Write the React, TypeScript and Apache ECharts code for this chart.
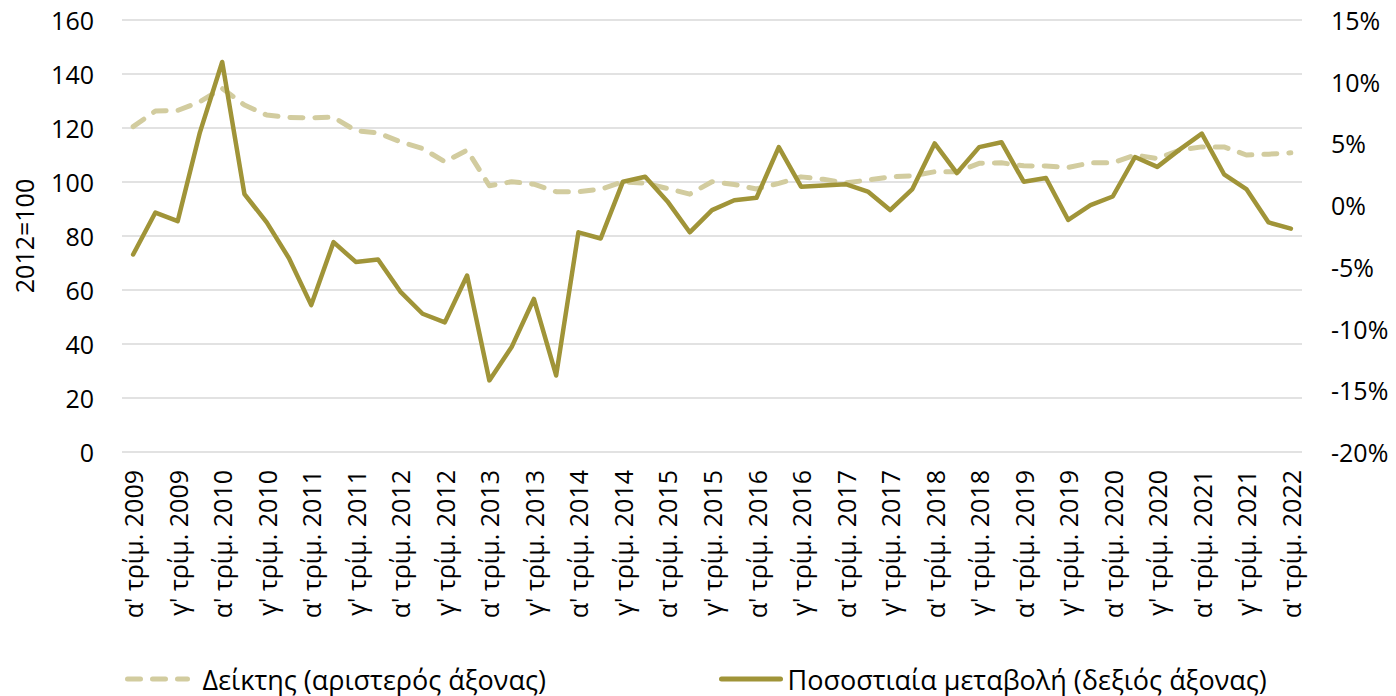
import React, { useEffect, useRef } from "react";
import * as echarts from "echarts";

const QUARTERS = ["α'", "β'", "γ'", "δ'"];
const YEARS = [2009, 2010, 2011, 2012, 2013, 2014, 2015, 2016, 2017, 2018, 2019, 2020, 2021, 2022];

const CATEGORIES: string[] = [];
YEARS.forEach((y) => {
  QUARTERS.forEach((q) => {
    if (CATEGORIES.length < 53) CATEGORIES.push(`${q} τρίμ. ${y}`);
  });
});

const INDEX_NAME = "Δείκτης (αριστερός άξονας)";
const CHANGE_NAME = "Ποσοστιαία μεταβολή (δεξιός άξονας)";

const INDEX_VALUES = [
  120.5, 126.3, 126.5, 129.7, 134.7, 128.5, 124.8, 123.9, 123.8, 124.0,
  119.0, 118.2, 114.9, 112.4, 107.5, 111.8, 98.6, 100.1, 99.2, 96.4,
  96.4, 97.3, 100.1, 99.5, 97.6, 95.5, 100.1, 99.1, 97.4, 99.5,
  101.9, 101.0, 99.7, 100.7, 101.9, 102.3, 103.8, 103.8, 106.9, 107.1,
  106.0, 105.9, 105.4, 107.1, 107.1, 110.0, 108.7, 111.8, 113.0, 113.0,
  110.0, 110.3, 110.8,
];

const CHANGE_VALUES = [
  -4.0, -0.6, -1.3, 5.9, 11.6, 0.9, -1.4, -4.3, -8.1, -3.0,
  -4.6, -4.4, -7.0, -8.8, -9.5, -5.7, -14.2, -11.5, -7.6, -13.8,
  -2.2, -2.7, 1.9, 2.3, 0.3, -2.2, -0.4, 0.4, 0.6, 4.7,
  1.5, 1.6, 1.7, 1.1, -0.4, 1.3, 5.0, 2.6, 4.7, 5.1,
  1.9, 2.2, -1.2, 0.0, 0.7, 3.9, 3.1, 4.5, 5.8, 2.5,
  1.3, -1.4, -1.9,
];

const FONT = "'Open Sans', 'Noto Sans', sans-serif";
const SOLID = "#A09438";
const DASHED = "#D2CC9F";
const GRID = "#D9D9D9";
const TEXT = "#000000";

export default function App() {
  const ref = useRef<HTMLDivElement>(null);

  useEffect(() => {
    if (!ref.current) return;
    const chart = echarts.init(ref.current, undefined, { renderer: "svg" });
    const legendText = { fontFamily: FONT, fontSize: 27, color: TEXT, lineHeight: 30 };
    chart.setOption({
      animation: false,
      backgroundColor: "#ffffff",
      textStyle: { fontFamily: FONT },
      grid: { left: 122, right: 94, top: 20, height: 432 },
      legend: [
        {
          data: [INDEX_NAME],
          left: 125,
          top: 664,
          padding: 0,
          itemWidth: 60,
          itemHeight: 14,
          itemStyle: { opacity: 0 },
          lineStyle: { width: 5, cap: "round" },
          textStyle: { ...legendText, padding: [0, 0, 0, 10] },
        },
        {
          data: [CHANGE_NAME],
          left: 719,
          top: 664,
          padding: 0,
          itemWidth: 59,
          itemHeight: 14,
          itemStyle: { opacity: 0 },
          lineStyle: { width: 5, cap: "round" },
          textStyle: { ...legendText, padding: [0, 0, 0, 2] },
        },
      ],
      xAxis: {
        type: "category",
        data: CATEGORIES,
        boundaryGap: true,
        axisLine: { show: false },
        axisTick: { show: false },
        axisLabel: {
          interval: 1,
          rotate: 90,
          margin: 18,
          fontSize: 25,
          color: TEXT,
          fontFamily: FONT,
        },
      },
      yAxis: [
        {
          type: "value",
          min: 0,
          max: 160,
          interval: 20,
          name: "2012=100",
          nameLocation: "middle",
          nameRotate: 90,
          nameGap: 86,
          nameTextStyle: { fontSize: 25, color: TEXT, fontFamily: FONT },
          axisLine: { show: false },
          axisTick: { show: false },
          axisLabel: { fontSize: 25, color: TEXT, margin: 28, fontFamily: FONT },
          splitLine: { show: true, lineStyle: { color: GRID, width: 1.5 } },
        },
        {
          type: "value",
          min: -20,
          max: 15,
          interval: 5,
          position: "right",
          axisLine: { show: false },
          axisTick: { show: false },
          axisLabel: { fontSize: 25, color: TEXT, margin: 29, fontFamily: FONT, formatter: "{value}%" },
          splitLine: { show: false },
        },
      ],
      series: [
        {
          name: INDEX_NAME,
          type: "line",
          yAxisIndex: 0,
          data: INDEX_VALUES,
          symbol: "none",
          color: DASHED,
          lineStyle: { color: DASHED, width: 5, type: [13, 12], cap: "round", join: "round" },
          z: 2,
        },
        {
          name: CHANGE_NAME,
          type: "line",
          yAxisIndex: 1,
          data: CHANGE_VALUES,
          symbol: "none",
          color: SOLID,
          lineStyle: { color: SOLID, width: 4.5, cap: "round", join: "round" },
          z: 3,
        },
      ],
    });
    return () => chart.dispose();
  }, []);

  return (
    <div
      ref={ref}
      style={{ position: "fixed", left: 0, top: 0, width: 1396, height: 696, background: "#fff" }}
    />
  );
}
